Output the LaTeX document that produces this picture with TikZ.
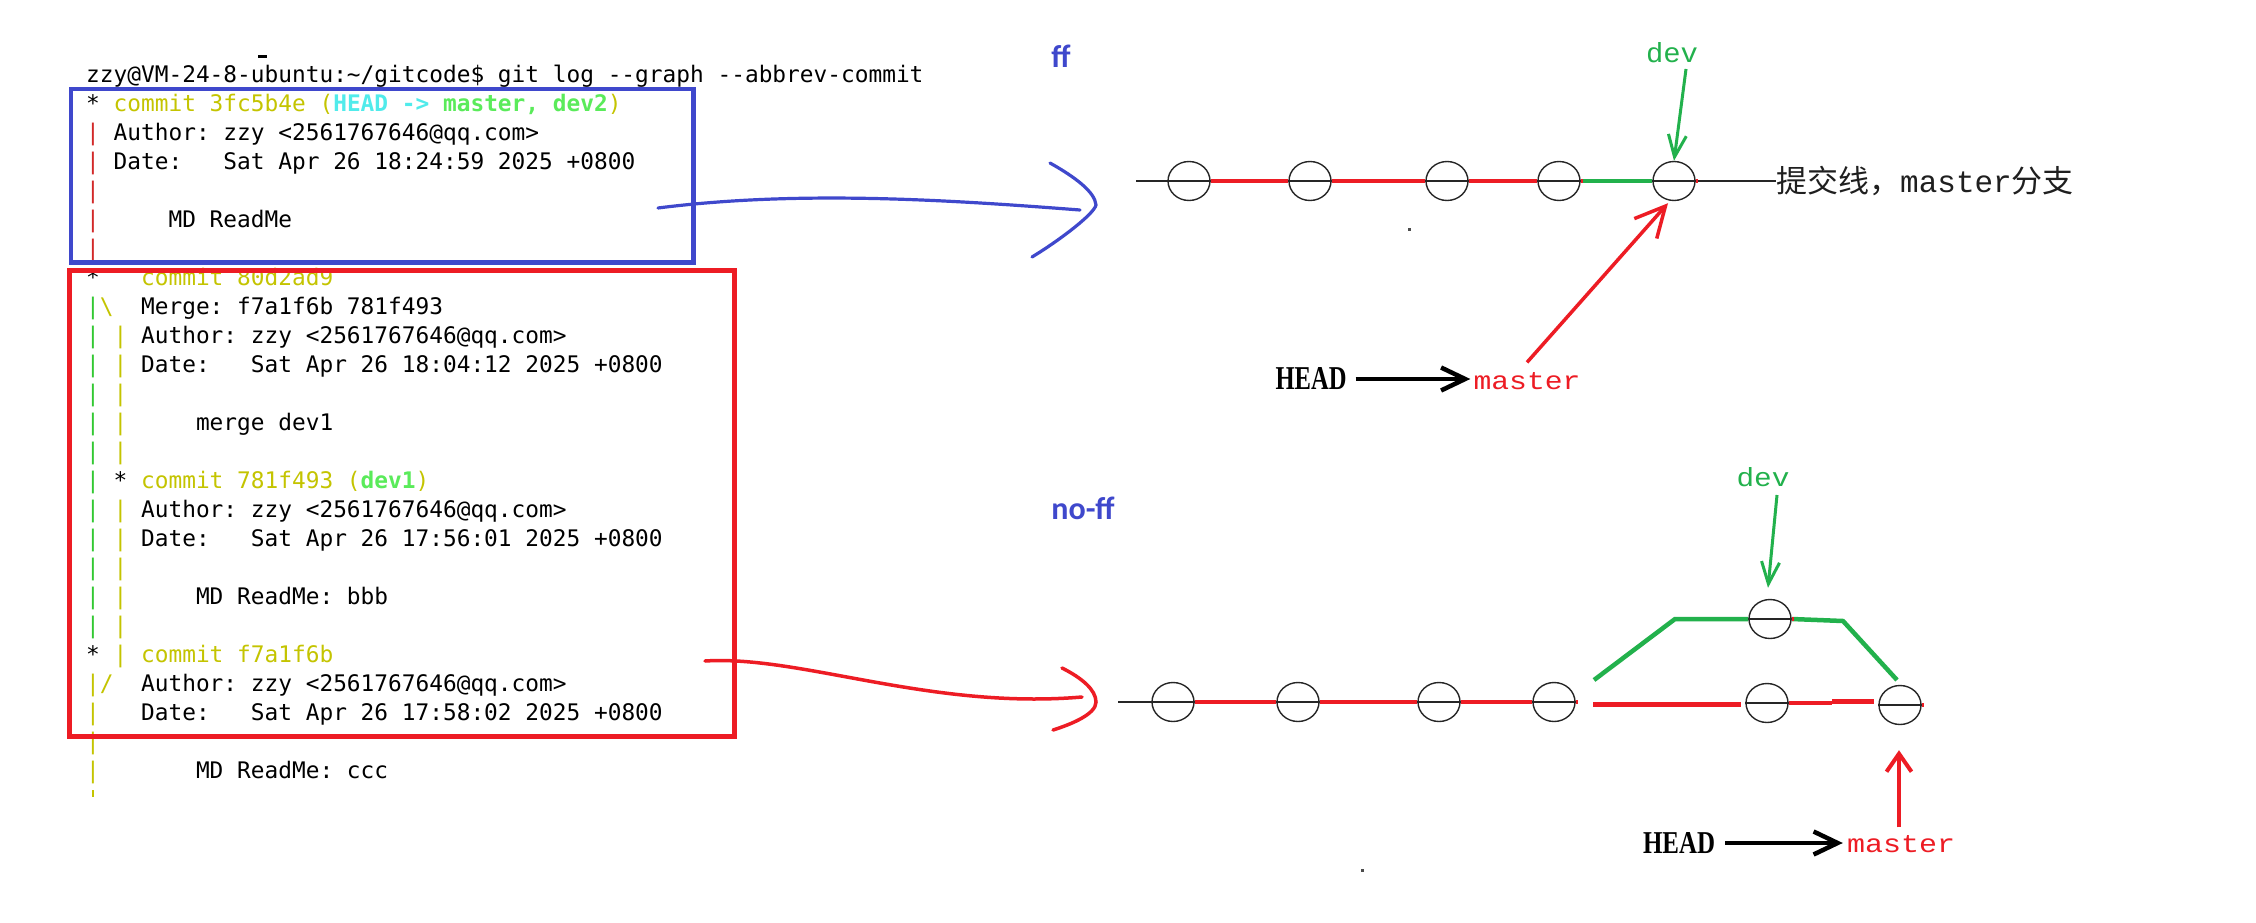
\documentclass[tikz,border=0pt]{standalone}
\usepackage{fontspec}
\setmonofont{DejaVu Sans Mono}
\newfontfamily\cjk{Noto Sans CJK SC}
\newfontfamily\lblmono{Liberation Mono}
\newfontfamily\lblserif{Liberation Serif}
\newfontfamily\lblsans{Carlito}
\usetikzlibrary{shapes.geometric,arrows.meta,calc,backgrounds}

\definecolor{boxBlue}{RGB}{63,72,204}
\definecolor{pRed}{RGB}{237,28,36}
\definecolor{pGreen}{RGB}{34,177,76}
\definecolor{gitY}{RGB}{196,196,0}
\definecolor{gitC}{RGB}{80,235,235}
\definecolor{gitG}{RGB}{90,235,90}
\definecolor{grR}{RGB}{210,40,40}
\definecolor{grG}{RGB}{50,200,50}

\newcommand{\tY}[1]{\textcolor{gitY}{#1}}
\newcommand{\tC}[1]{\textcolor{gitC}{\bfseries #1}}
\newcommand{\tG}[1]{\textcolor{gitG}{\bfseries #1}}
\newcommand{\tR}[1]{\textcolor{grR}{#1}}
\newcommand{\tGr}[1]{\textcolor{grG}{#1}}
\newcommand{\logline}[2]{\node[logtxt] (l#1) at (86,{82.5+29*(#1-1)}) {#2};}

\begin{document}
\begin{tikzpicture}[x=1pt,y=-1pt,
  logtxt/.style={anchor=base west,inner sep=0pt,font=\ttfamily\fontsize{22.8}{29}\selectfont,text=black},
  frame/.style={draw,line width=4.5pt,inner sep=0pt,anchor=north west},
  commitnode/.style={ellipse,draw=black!85,line width=1.4pt,minimum width=42pt,minimum height=39pt,inner sep=0pt},
  commitline/.style={draw=black!85,line width=1.4pt},
  redseg/.style={draw=pRed,line width=4.5pt},
  greenseg/.style={draw=pGreen,line width=4.5pt},
  greenarr/.style={draw=pGreen,line width=3pt,-{Straight Barb[length=22pt,width=18pt,line width=3pt]}},
  blackarr/.style={draw=black,line width=4.5pt,-{Straight Barb[length=24pt,width=23pt,line width=4.5pt]}},
  redarr/.style={draw=pRed,line width=3.5pt,-{Straight Barb[length=30pt,width=30pt,line width=3.5pt]}},
  redup/.style={draw=pRed,line width=4pt,-{Straight Barb[length=18pt,width=25pt,line width=4pt]}},
  handblue/.style={draw=boxBlue,line width=3.2pt,line cap=round},
  handred/.style={draw=pRed,line width=3.5pt,line cap=round},
  lblff/.style={font=\lblsans\bfseries\fontsize{32}{32}\selectfont,text=boxBlue,inner sep=0pt}
]
\useasboundingbox (0,0) rectangle (2256,923);

% ---------------- terminal log ----------------
\fill[black] (258,55) rectangle (267,58);
\logline{1}{zzy@VM-24-8-ubuntu:\textasciitilde/gitcode\$ git log -{}-graph -{}-abbrev-commit}
\logline{2}{* \tY{commit 3fc5b4e (}\tC{HEAD -> }\tG{master, dev2}\tY{)}}
\logline{3}{\tR{|}~Author: zzy <2561767646@qq.com>}
\logline{4}{\tR{|}~Date:~~~Sat Apr 26 18:24:59 2025 +0800}
\logline{5}{\tR{|}}
\logline{6}{\tR{|}~~~~~MD ReadMe}
\logline{7}{\tR{|}}
\logline{8}{*~~~\tY{commit 80d2ad9}}
\logline{9}{\tGr{|}\tY{\textbackslash}~~Merge: f7a1f6b 781f493}
\logline{10}{\tGr{|}~\tY{|}~Author: zzy <2561767646@qq.com>}
\logline{11}{\tGr{|}~\tY{|}~Date:~~~Sat Apr 26 18:04:12 2025 +0800}
\logline{12}{\tGr{|}~\tY{|}}
\logline{13}{\tGr{|}~\tY{|}~~~~~merge dev1}
\logline{14}{\tGr{|}~\tY{|}}
\logline{15}{\tGr{|}~*~\tY{commit 781f493 (}\tG{dev1}\tY{)}}
\logline{16}{\tGr{|}~\tY{|}~Author: zzy <2561767646@qq.com>}
\logline{17}{\tGr{|}~\tY{|}~Date:~~~Sat Apr 26 17:56:01 2025 +0800}
\logline{18}{\tGr{|}~\tY{|}}
\logline{19}{\tGr{|}~\tY{|}~~~~~MD ReadMe: bbb}
\logline{20}{\tGr{|}~\tY{|}}
\logline{21}{*~\tY{|}~\tY{commit f7a1f6b}}
\logline{22}{\tY{|/}~~Author: zzy <2561767646@qq.com>}
\logline{23}{\tY{|}~~~Date:~~~Sat Apr 26 17:58:02 2025 +0800}
\logline{24}{\tY{|}}
\logline{25}{\tY{|}~~~~~~~MD ReadMe: ccc}
\draw[gitY,line width=2.2pt] (92.9,790) -- (92.9,797);

\node[frame,draw=boxBlue,minimum width=622.5pt,minimum height=173pt] (bluebox) at (68.5,87) {};
\node[frame,draw=pRed,minimum width=665pt,minimum height=466pt] (redbox) at (67,268) {};

% ---------------- hand-drawn connectors ----------------
\coordinate (bs) at (658,208);
\coordinate (be) at (1080,210);
\draw[handblue] (bs) .. controls (800,190) and (950,200) .. (be);
\draw[handblue] (1050,163) .. controls (1075,177) and (1095,192) .. (1096,205)
                .. controls (1094,214) and (1060,240) .. (1032,257);

\coordinate (rs) at (705,661);
\coordinate (re) at (1082,697);
\draw[handred] (rs) .. controls (800,655) and (930,710) .. (re);
\draw[handred] (1062,668) .. controls (1082,678) and (1096,690) .. (1096,702)
               .. controls (1096,714) and (1072,724) .. (1053,730);

% ---------------- ff diagram ----------------
\node[lblff] (fflbl) at (1061,56) {ff};
\coordinate (ffs) at (1136,181);
\foreach \n/\x in {1/1189,2/1310,3/1447,4/1559,5/1674}
  \node[commitnode] (a\n) at (\x,181) {};
\node[anchor=base west,inner sep=0pt,text=black!88,font=\fontsize{31}{31}\selectfont]
  (cjklbl) at (1776,192) {\cjk 提交线，{\lblmono master}分支};
\begin{scope}[on background layer]
  \fill[white] (0,0) rectangle (2256,923);
  \draw[commitline] (ffs) -- (ffs -| cjklbl.west);
  \draw[redseg] (a1.east) -- (a2.west);
  \draw[redseg] (a2.east) -- (a3.west);
  \draw[redseg] (a3.east) -- (a4.west);
  \draw[greenseg] (a4.east) -- (a5.west);
  \draw[redseg] (a4.east) -- ++(2.5,0);
  \draw[redseg] (a5.east) -- ++(2.5,0);
\end{scope}

\node[inner sep=0pt,anchor=south,text=pGreen] (dev1) at (1672,63)
  {\resizebox{52pt}{20pt}{\lblmono dev}};
\draw[greenarr] ($(dev1.south)+(14,6)$) -- (a5.north);

\node[inner sep=0pt] (hd1) at (1311,379) {\resizebox{71pt}{22pt}{\lblserif\bfseries HEAD}};
\node[inner sep=0pt,anchor=south,text=pRed] (ms1) at (1527,390)
  {\resizebox{107pt}{17pt}{\lblmono master}};
\draw[blackarr,shorten <=9pt,shorten >=3pt] (hd1.east) -- (hd1.east -| ms1.west);
\draw[redarr] ($(ms1.north)+(0,-10)$) -- ($(a5.south)+(-6,2)$);
\fill[black!70] (1408,228) rectangle (1411,230.5);

% ---------------- no-ff diagram ----------------
\node[lblff] (nofflbl) at (1083,508) {no-ff};
\coordinate (nfs) at (1118,702);
\foreach \n/\x in {1/1173,2/1298,3/1439,4/1554}
  \node[commitnode] (b\n) at (\x,702) {};
\node[commitnode] (b5) at (1767,703) {};
\node[commitnode] (b6) at (1900,705) {};
\node[commitnode] (bu) at (1770,619) {};
\coordinate (r1) at (1593,704);
\coordinate (r2) at (1741,704);
\coordinate (r3) at (1832,703);
\coordinate (r4) at (1832,701.5);
\coordinate (r5) at (1874,701.5);
\coordinate (g1) at (1594,680);
\coordinate (g2) at (1675,619);
\coordinate (g3) at (1843,621);
\coordinate (g4) at (1897,680);
\begin{scope}[on background layer]
  \draw[commitline] (nfs) -- (b4.east);
  \draw[commitline] (b5.west) -- (b5.east);
  \draw[commitline] (b6.west) -- (b6.east);
  \draw[commitline] (bu.west) -- (bu.east);
  \draw[redseg] (b1.east) -- (b2.west);
  \draw[redseg] (b2.east) -- (b3.west);
  \draw[redseg] (b3.east) -- (b4.west);
  \draw[redseg,line width=5pt] (r1) -- (r2);
  \draw[redseg] (b5.east) -- (r3);
  \draw[redseg] (r4) -- (r5);
  \draw[greenseg] (g1) -- (g2) -- (bu.west);
  \draw[greenseg] (bu.east) -- (g3) -- (g4);
  \draw[redseg] (b4.east) -- ++(2.5,0);
  \draw[redseg] (bu.east) -- ++(2.5,0);
  \draw[redseg] (b6.east) -- ++(2.5,0);
\end{scope}

\node[inner sep=0pt,anchor=south,text=pGreen] (dev2) at (1763,487)
  {\resizebox{53pt}{19pt}{\lblmono dev}};
\draw[greenarr] ($(dev2.south)+(14,8)$) -- ($(bu.north)+(-2,-11)$);

\node[inner sep=0pt] (hd2) at (1679,843) {\resizebox{72pt}{21pt}{\lblserif\bfseries HEAD}};
\node[inner sep=0pt,anchor=south,text=pRed] (ms2) at (1901,853)
  {\resizebox{108pt}{17pt}{\lblmono master}};
\draw[blackarr,shorten <=10pt,shorten >=4pt] (hd2.east) -- (hd2.east -| ms2.west);
\draw[redup] ($(ms2.north)+(-2,-8)$) -- ($(b6.south)+(-1,25)$);
\fill[black!70] (1361,869) rectangle (1364,871.5);
\end{tikzpicture}
\end{document}
